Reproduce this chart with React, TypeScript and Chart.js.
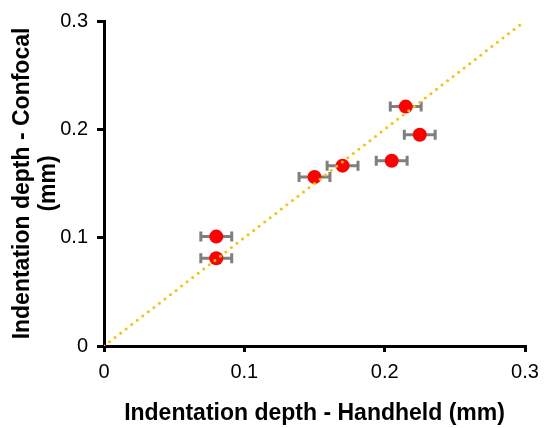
import React, { useEffect, useRef } from "react";
import { Chart, registerables } from "chart.js";

Chart.register(...registerables);

const handheld = [0.08, 0.08, 0.15, 0.17, 0.205, 0.215, 0.225];
const confocal = [0.101, 0.081, 0.156, 0.1665, 0.171, 0.221, 0.195];
const handheldErr = [0.011, 0.011, 0.011, 0.011, 0.011, 0.011, 0.011];
const tickLabels = ["0", "0.1", "0.2", "0.3"];
const identityLine = [0, 0.3];

const errorBarPlugin = {
  id: "errorBars",
  beforeDatasetsDraw(chart: any) {
    const { ctx, scales } = chart;
    const xs = scales.x;
    const ys = scales.y;
    ctx.save();
    ctx.strokeStyle = "#7f7f7f";
    ctx.lineWidth = 3;
    for (let i = 0; i < handheld.length; i++) {
      const x1 = xs.getPixelForValue(handheld[i] - handheldErr[i]);
      const x2 = xs.getPixelForValue(handheld[i] + handheldErr[i]);
      const y = ys.getPixelForValue(confocal[i]);
      ctx.beginPath();
      ctx.moveTo(x1, y);
      ctx.lineTo(x2, y);
      ctx.moveTo(x1, y - 5);
      ctx.lineTo(x1, y + 5);
      ctx.moveTo(x2, y - 5);
      ctx.lineTo(x2, y + 5);
      ctx.stroke();
    }
    ctx.restore();
  },
};

export default function App() {
  const ref = useRef<HTMLCanvasElement>(null);
  useEffect(() => {
    if (!ref.current) return;
    const chart = new Chart(ref.current, {
      type: "scatter",
      data: {
        datasets: [
          {
            label: "identity",
            data: identityLine.map((v) => ({ x: v, y: v })),
            showLine: true,
            borderColor: "#FFC000",
            borderWidth: 3,
            borderDash: [0, 7],
            borderCapStyle: "round",
            pointRadius: 0,
            order: 0,
          } as any,
          {
            label: "points",
            data: handheld.map((v, i) => ({ x: v, y: confocal[i] })),
            backgroundColor: "#FF0000",
            borderWidth: 0,
            pointRadius: 7,
            order: 1,
          },
        ],
      },
      options: {
        animation: false,
        responsive: false,
        layout: { padding: { top: 20, right: 25, left: 0, bottom: 0 } },
        plugins: { legend: { display: false }, tooltip: { enabled: false } },
        scales: {
          x: {
            type: "linear",
            min: 0,
            max: 0.3,
            afterFit: (s: any) => {
              s.height = 82;
            },
            ticks: {
              stepSize: 0.1,
              color: "#000",
              font: { family: "Liberation Sans, Arial", size: 20 },
              padding: 8,
              callback: (_v: any, i: number) => tickLabels[i],
            },
            grid: {
              drawOnChartArea: false,
              drawTicks: true,
              tickLength: 6,
              color: "#000",
              lineWidth: 3,
            },
            border: { color: "#000", width: 3 },
            title: {
              display: true,
              text: "Indentation depth - Handheld (mm)",
              color: "#000",
              font: { family: "Liberation Sans, Arial", size: 23, weight: "bold", lineHeight: 1.2 },
              padding: { top: 0, bottom: 1 },
            },
          },
          y: {
            type: "linear",
            min: 0,
            max: 0.3,
            afterFit: (s: any) => {
              s.width = 104;
            },
            ticks: {
              stepSize: 0.1,
              color: "#000",
              font: { family: "Liberation Sans, Arial", size: 20 },
              padding: 9,
              callback: (_v: any, i: number) => tickLabels[i],
            },
            grid: {
              drawOnChartArea: false,
              drawTicks: true,
              tickLength: 7,
              color: "#000",
              lineWidth: 3,
            },
            border: { color: "#000", width: 3 },
            title: {
              display: true,
              text: ["Indentation depth - Confocal", "(mm)"],
              color: "#000",
              font: { family: "Liberation Sans, Arial", size: 23, weight: "bold", lineHeight: 1.15 },
              padding: { top: 9, bottom: 0 },
            },
          },
        },
      },
      plugins: [errorBarPlugin],
    });
    return () => chart.destroy();
  }, []);
  return (
    <div style={{ position: "absolute", left: 0, top: 0, width: 550, height: 428 }}>
      <canvas ref={ref} width={550} height={428} />
    </div>
  );
}
